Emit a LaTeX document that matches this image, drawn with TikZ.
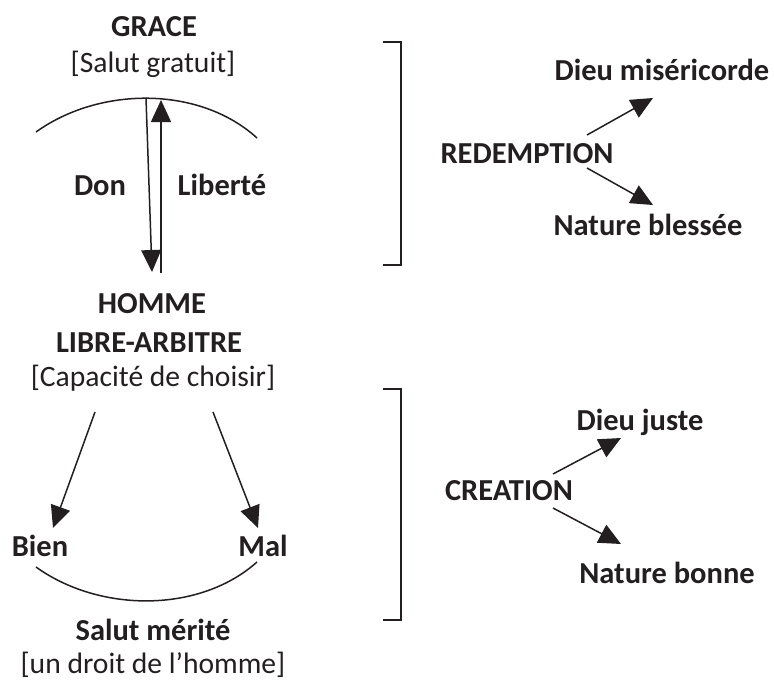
\documentclass[tikz,border=0pt]{standalone}
\usepackage{fontspec}
\setmainfont{Carlito}
\usetikzlibrary{arrows.meta}
\definecolor{ink}{HTML}{231F20}
\begin{document}
\begin{tikzpicture}[x=1pt,y=-1pt,
  every node/.style={inner sep=0pt, anchor=base, text=ink},
  bt/.style={font=\fontsize{30.5}{36}\selectfont\bfseries},
  rt/.style={font=\fontsize{29.6}{35}\selectfont},
  arr/.style={draw=ink, line width=1.5pt, -{Triangle[length=22pt,width=20pt]}},
  ln/.style={draw=ink, line width=1.5pt}]
\useasboundingbox (0,0) rectangle (774,683);
% left column
\node[bt] (grace) at (154,36) {GRACE};
\node[rt] (salut) at (153,72) {[Salut gratuit]};
\node[bt] (don) at (100,195) {Don};
\node[bt] (lib) at (222,195) {Liberté};
\node[bt] (homme) at (152,313) {HOMME};
\node[bt] (libre) at (149,352) {LIBRE-ARBITRE};
\node[rt] (capa) at (153,386) {[Capacité de choisir]};
\node[bt] (bien) at (40,556) {Bien};
\node[bt] (mal) at (263,556) {Mal};
\node[bt] (merite) at (153,640) {Salut mérité};
\node[rt] (droit) at (153,673) {[un droit de l’homme]};
% right column
\node[bt] (red) at (527,163) {REDEMPTION};
\node[bt] (dmis) at (662,80) {Dieu miséricorde};
\node[bt] (nbl) at (648,235) {Nature blessée};
\node[bt] (crea) at (509,500) {CREATION};
\node[bt] (djus) at (640,430) {Dieu juste};
\node[bt] (nbon) at (667,583) {Nature bonne};
% coordinates
\coordinate (arcTL) at (36,132);
\coordinate (arcTR) at (257,138);
\coordinate (donS) at (146,98);
\coordinate (donE) at (152,272);
\coordinate (libS) at (161,273);
\coordinate (libE) at (161,100);
\coordinate (bienS) at (95,412);
\coordinate (bienE) at (53,528);
\coordinate (malS) at (213,412);
\coordinate (malE) at (258,528);
\coordinate (arcBL) at (36,567);
\coordinate (arcBR) at (257,562);
\coordinate (r1a) at (587,135);
\coordinate (r1b) at (653,98);
\coordinate (r2a) at (587,168);
\coordinate (r2b) at (653,205);
\coordinate (c1a) at (553,474);
\coordinate (c1b) at (621,438);
\coordinate (c2a) at (553,508);
\coordinate (c2b) at (621,544);
% drawing
\draw[ln] (arcTL) .. controls (100,86) and (200,86) .. (arcTR);
\draw[arr] (donS) -- (donE);
\draw[arr] (libS) -- (libE);
\draw[arr] (bienS) -- (bienE);
\draw[arr] (malS) -- (malE);
\draw[ln] (arcBL) .. controls (100,613) and (200,613) .. (arcBR);
\draw[ln] (383,42) -- (401,42) -- (401,265) -- (383,265);
\draw[ln] (383,389) -- (401,389) -- (401,620) -- (383,620);
\draw[arr] (r1a) -- (r1b);
\draw[arr] (r2a) -- (r2b);
\draw[arr] (c1a) -- (c1b);
\draw[arr] (c2a) -- (c2b);
\end{tikzpicture}
\end{document}
